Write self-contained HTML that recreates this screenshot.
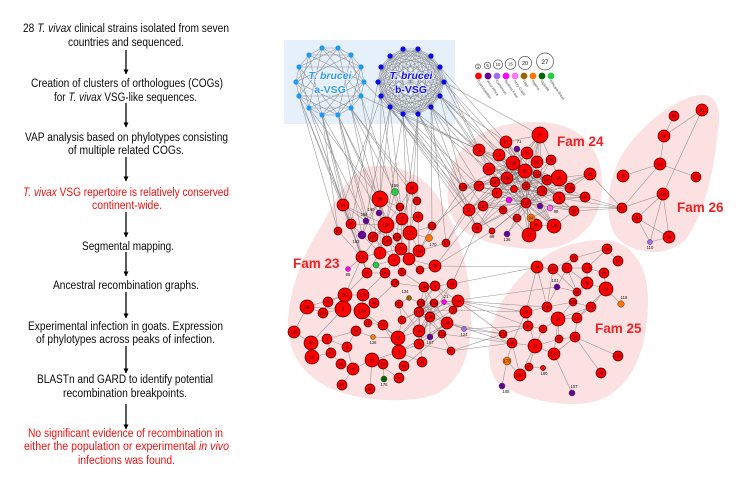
<!DOCTYPE html>
<html><head><meta charset="utf-8"><style>
html,body{margin:0;padding:0;background:#fff;width:756px;height:495px;overflow:hidden}
svg{display:block}
.t{font-family:"Liberation Sans",Arial,sans-serif;font-size:11.5px;fill:#0a0a0a}
.red{fill:#f01010}
.e{fill:none;stroke:#7a7a7a;stroke-width:.55;stroke-opacity:.8}
.r{fill:#f00;stroke:#3a0000;stroke-width:.65}
.lb{font-family:"Liberation Sans",Arial,sans-serif;font-size:4.2px;fill:#111;text-anchor:middle}
.sl{font-family:"Liberation Sans",Arial,sans-serif;font-size:3.6px;fill:#444}
.fam{font-family:"Liberation Sans",Arial,sans-serif;font-weight:bold;font-size:13.5px;fill:#ee2222}
</style></head><body>
<svg width="756" height="495" viewBox="0 0 756 495" xmlns="http://www.w3.org/2000/svg">
<defs><marker id="ah" viewBox="0 0 10 10" refX="9" refY="5" markerWidth="5" markerHeight="5" orient="auto" markerUnits="userSpaceOnUse"><path d="M0 0L10 5L0 10Z" fill="#000"/></marker></defs>

<!-- LEFT FLOW TEXT -->
<g class="t" text-anchor="middle">
<text x="126" y="32" textLength="206" lengthAdjust="spacingAndGlyphs">28 <tspan font-style="italic">T. vivax</tspan> clinical strains isolated from seven</text>
<text x="126" y="46" textLength="116" lengthAdjust="spacingAndGlyphs">countries and sequenced.</text>
<text x="127" y="87" textLength="192" lengthAdjust="spacingAndGlyphs">Creation of clusters of orthologues (COGs)</text>
<text x="125.5" y="101" textLength="143" lengthAdjust="spacingAndGlyphs">for <tspan font-style="italic">T. vivax</tspan> VSG-like sequences.</text>
<text x="126.5" y="141" textLength="203" lengthAdjust="spacingAndGlyphs">VAP analysis based on phylotypes consisting</text>
<text x="126" y="154" textLength="116" lengthAdjust="spacingAndGlyphs">of multiple related COGs.</text>
<text class="red" x="126" y="196" textLength="206" lengthAdjust="spacingAndGlyphs"><tspan font-style="italic">T. vivax</tspan> VSG repertoire is relatively conserved</text>
<text class="red" x="127" y="209" textLength="70" lengthAdjust="spacingAndGlyphs">continent-wide.</text>
<text x="128" y="250" textLength="92" lengthAdjust="spacingAndGlyphs">Segmental mapping.</text>
<text x="126" y="289" textLength="146" lengthAdjust="spacingAndGlyphs">Ancestral recombination graphs.</text>
<text x="125.5" y="330" textLength="195" lengthAdjust="spacingAndGlyphs">Experimental infection in goats. Expression</text>
<text x="125.5" y="343" textLength="179" lengthAdjust="spacingAndGlyphs">of phylotypes across peaks of infection.</text>
<text x="125" y="383" textLength="176" lengthAdjust="spacingAndGlyphs">BLASTn and GARD to identify potential</text>
<text x="125" y="397" textLength="124" lengthAdjust="spacingAndGlyphs">recombination breakpoints.</text>
<text class="red" x="125.5" y="437" textLength="195" lengthAdjust="spacingAndGlyphs">No significant evidence of recombination in</text>
<text class="red" x="126.5" y="450" textLength="205" lengthAdjust="spacingAndGlyphs">either the population or experimental <tspan font-style="italic">in vivo</tspan></text>
<text class="red" x="126.5" y="464" textLength="97" lengthAdjust="spacingAndGlyphs">infections was found.</text>
</g>
<g stroke="#000" stroke-width="1.3" marker-end="url(#ah)">
<line x1="126" y1="50" x2="126" y2="74"/>
<line x1="126" y1="103" x2="126" y2="127"/>
<line x1="126" y1="157" x2="126" y2="181"/>
<line x1="126" y1="212" x2="126" y2="237"/>
<line x1="126" y1="252" x2="126" y2="276"/>
<line x1="126" y1="292" x2="126" y2="318"/>
<line x1="126" y1="346" x2="126" y2="373"/>
<line x1="126" y1="404" x2="126" y2="429"/>
</g>

<!-- BLUE BOX & BLOBS -->
<rect x="284" y="40" width="171" height="84" fill="#e6f0fa"/>
<g fill="#fbe1e1">
<path d="M372 166C400 164 425 175 440 200C458 230 470 270 471 310C472 345 466 375 440 392C415 405 360 402 330 388C300 374 288 350 288 325C288 290 305 250 322 225C335 200 350 170 372 166Z"/>
<path d="M530 122C565 120 592 135 600 165C608 200 595 235 560 246C530 254 480 245 460 228C443 212 444 175 460 152C475 132 500 123 530 122Z"/>
<path d="M700 95C715 93 722 108 718 130C714 170 705 215 685 240C668 258 630 255 615 235C603 215 608 175 625 150C642 125 675 98 700 95Z"/>
<path d="M600 240C630 238 648 265 648 300C648 345 635 385 600 400C570 410 520 400 498 383C485 370 487 330 500 305C512 282 540 255 565 246C578 242 590 240 600 240Z"/>
</g>

<!-- RING EDGES -->
<g class="e">
<polygon points="338,48 351,55 361,67 364,82 361,96 351,108 338,115 322,115 309,108 299,96 296,82 299,67 309,55 322,48"/>
<polygon points="338,48 364,82 338,115 299,96 309,55 351,55 361,96 322,115 296,82 322,48 361,67 351,108 309,108 299,67"/>
<polygon points="338,48 351,108 296,82 351,55 338,115 299,67 361,67 322,115 309,55 364,82 309,108 322,48 361,96 299,96"/>
<polygon points="418,49 431,56 440,67 444,82 440,96 431,107 418,114 403,114 390,107 381,96 378,82 381,67 390,56 403,49"/>
<polygon points="418,49 444,82 418,114 381,96 390,56 431,56 440,96 403,114 378,82 403,49 440,67 431,107 390,107 381,67"/>
<polygon points="418,49 431,107 378,82 431,56 418,114 381,67 440,67 403,114 390,56 444,82 390,107 403,49 440,96 381,96"/>
<polygon points="418,49 440,96 390,107 390,56 440,67 418,114 378,82"/>
<polygon points="431,56 431,107 381,96 403,49 444,82 403,114 381,67"/>
<polygon points="418,49 418,114 390,56 440,96 378,82 440,67 390,107"/>
<polygon points="431,56 403,114 403,49 431,107 381,67 444,82 381,96"/>
<polygon points="418,49 440,67 440,96 418,114 390,107 378,82 390,56"/>
<polygon points="431,56 444,82 431,107 403,114 381,96 381,67 403,49"/>
<path d="M418 49L403 114M431 56L390 107M440 67L381 96M444 82L378 82M440 96L381 67M431 107L390 56M418 114L403 49"/>
</g>

<!-- INTER EDGES -->
<g class="e" stroke-opacity=".7">
<path d="M322 115L343 205M322 115L338 231M322 115L351 224M338 115L380 199M338 115L362 235M338 115L366 221M351 108L386 225M351 108L380 253M351 108L395 192M309 108L343 205M309 108L362 257M309 108L367 273M299 96L338 231M361 96L380 199M361 96L402 219M351 108L412 188M338 115L373 237M322 115L379 213M309 108L366 221M299 96L351 224M338 115L401 249M351 108L417 201M361 96L479 150M364 82L463 187M322 115L386 225M309 108L380 199M299 96L362 257M322 115L367 273"/>
<path d="M440 96L479 150M440 96L463 187M440 96L489 169M440 96L499 155M440 96L506 142M431 107L479 186M431 107L469 210M431 107L479 150M431 107L495 182M418 114L463 187M418 114L477 228M418 114L483 206M418 114L489 169M403 114L469 210M403 114L479 186M403 114L463 187M390 107L479 150M390 107L477 228M444 82L540 135M444 82L499 155M440 67L506 142M444 82L525 171M381 96L469 210M390 107L492 231M440 96L513 163M431 107L507 178M444 82L479 150M440 67L489 169"/>
<path d="M390 107L380 199M390 107L402 219M403 114L412 188M403 114L386 225M381 96L395 192M381 96L343 205M378 82L351 224M418 114L417 201M418 114L401 249M403 114L409 259M390 107L362 235M431 107L432 226M431 107L446 243M418 114L410 233M381 96L380 253"/>
<path d="M458 301L526 312M458 301L503 334M447 323L512 343M464 329L528 326M451 351L503 334M452 284L537 267M444 302L557 287M435 266L537 267M453 310L526 312M458 301L547 307M447 323L503 334M442 334L512 343M435 266L483 206M446 243L469 210M419 251L463 187M432 226L479 186M452 284L477 228M435 266L492 231M446 243L479 186M458 301L528 326M451 351L512 343M464 329L503 334"/>
<path d="M574 211L622 208M585 197L622 208M559 198L622 208M540 206L622 208M590 174L622 208"/>
</g>

<!-- FAM 24 EDGES -->
<g class="e" stroke="#555" stroke-opacity=".7">
<path d="M525 171L540 135M525 171L506 142M525 171L479 150M525 171L499 155M525 171L527 153M525 171L551 160M525 171L489 169M525 171L559 178M525 171L479 186M525 171L463 187M525 171L495 182M525 171L547 180M525 171L570 188M525 171L497 193M525 171L559 198M525 171L469 210M525 171L477 228M525 171L529 235M525 171L554 226M525 171L574 211M525 171L483 206"/>
<path d="M526 203L540 135M526 203L506 142M526 203L479 150M526 203L499 155M526 203L489 169M526 203L463 187M526 203L479 186M526 203L469 210M526 203L483 206M526 203L477 228M526 203L492 231M526 203L507 234M526 203L536 225M526 203L554 226M526 203L574 211M526 203L585 197M526 203L570 188M526 203L559 178M526 203L551 160M526 203L537 162M526 203L590 174"/>
<path d="M513 163L479 150M513 163L489 169M513 163L463 187M513 163L479 186M513 163L469 210M513 163L529 235M513 163L554 226M513 163L559 198M513 163L559 178M513 163L570 188M513 163L540 135M513 163L585 197"/>
<path d="M526 186L540 135M526 186L551 160M526 186L479 150M526 186L483 206M526 186L477 228M526 186L529 235M526 186L517 218M526 186L585 197M526 186L506 142"/>
<path d="M542 191L479 150M542 191L506 142M542 191L499 155M542 191L489 169M542 191L463 187M542 191L469 210M542 191L477 228M542 191L507 234M542 191L492 231M542 191L585 197M542 191L590 174M542 191L540 135"/>
<path d="M507 178L540 135M507 178L537 162M507 178L559 178M507 178L570 188M507 178L574 211M507 178L554 226M507 178L536 225M507 178L469 210M507 178L477 228"/>
<path d="M540 135L506 142M540 135L527 153M540 135L537 162M540 135L551 160M540 135L559 178M540 135L497 193M559 178L590 174M559 198L585 197M570 188L590 174M479 150L499 155M499 155L506 142M469 210L477 228M483 206L503 210M503 210L529 235M536 225L554 226M574 211L554 226M559 198L574 211M495 182L559 198M489 169L559 178M497 193L570 188M479 186L574 211M463 187L559 178M509 200L540 206M550 208L531 218M517 149L525 171M517 149L497 193M497 193L547 180M489 169L536 225M499 155L554 226M506 142L559 198M479 186L537 162M495 182L554 226"/>
</g>

<!-- FAM 26 EDGES -->
<path class="e" d="M674 116L664 136M664 136L702 110M664 136L660 164M660 164L623 176M660 164L696 177M660 164L622 208M702 110L663 194M663 194L622 208M663 194L637 218M663 194L650 242M663 194L669 237M637 218L669 237M637 218L650 242M650 242L669 237"/>

<!-- FAM 23 EDGES -->
<g class="e">
<path d="M380 199L386 225M380 199L402 219M380 199L400 207M412 188L402 219M412 188L417 201M395 192L386 225M395 192L400 207M343 205L386 225M351 224L386 225M338 231L362 257M386 225L362 257M386 225L373 237M386 225L387 241M386 225L380 253M386 225L401 249M386 225L394 260M402 219L410 233M402 219L418 217M402 219L401 249M410 233L419 251M410 233L409 259M410 233L432 226M429 238L410 233M446 243L419 251M401 249L409 259M401 249L394 260M401 249L380 253M394 260L385 273M394 260L402 272M380 253L367 273M380 253L362 257M362 257L367 273M409 259L435 266M409 259L420 270M435 266L420 270M385 273L395 283M395 283L424 287M380 199L362 235M380 199L366 221M380 199L379 213M343 205L362 257M351 224L380 253M417 201L410 233M400 207L397 237M418 217L419 251M402 219L373 237M386 225L410 233M397 237L401 249M362 235L380 253M366 221L401 249M387 241L409 259M373 237L394 260M343 205L366 221M412 188L386 225M432 226L419 251M394 260L376 265M402 272L424 287M367 273L385 273M348 269L362 257M376 265L385 273"/>
<path d="M345 295L363 295M345 295L343 309M345 295L328 302M343 309L362 311M343 309L323 313M307 307L323 313M307 307L343 309M363 295L374 303M363 295L362 311M362 311L368 323M368 323L383 325M383 325L398 338M356 331L373 337M373 337L398 338M398 338L399 352M399 352L372 360M372 360L383 364M399 352L404 366M404 366L399 378M383 364L384 379M353 369L341 364M341 364L331 353M331 353L327 339M327 339L311 343M311 343L312 357M311 343L294 332M294 332L307 307M347 347L327 339M347 347L356 331M347 347L353 369M353 369L372 360M342 385L353 369M370 389L372 360M399 352L419 344M398 338L419 331M398 338L402 320M402 320L399 304M399 304L409 298M367 273L345 295M385 273L363 295M395 283L374 303M362 257L345 295M328 302L323 313M312 357L331 353M327 339L356 331M372 360L399 378M399 352L422 362M383 325L399 352M362 311L398 338M345 295L307 307M294 332L311 343M343 309L311 343"/>
<path d="M419 312L430 317M419 312L421 303M419 312L434 303M419 312L419 331M419 312L447 323M419 312L458 301M419 312L453 310M419 312L442 334M419 312L424 287M419 312L435 286M419 312L452 284M419 312L402 320M430 317L421 303M430 317L458 301M430 317L419 331M430 317L442 334M430 317L430 337M430 317L419 344M430 317L424 287M430 317L452 284M430 317L444 302M421 303L447 323M421 303L435 286M421 303L419 331M434 303L419 331M434 303L447 323M434 303L424 287M434 303L402 320M447 323L458 301M447 323L442 334M447 323L419 344M447 323L424 287M453 310L419 331M453 310L435 286M458 301L435 286M458 301L444 302M442 334L451 351M419 331L422 362M419 344L451 351M419 331L399 304M419 312L398 338M434 303L398 338M447 323L399 352M442 334L404 366M424 287L435 286M435 286L452 284M430 337L447 323M419 344L434 303M464 329L447 323M409 298L421 303"/>
</g>

<!-- FAM 25 EDGES -->
<path class="e" d="M607 249L618 261M607 249L574 258M607 249L587 268M574 258L567 268M574 258L553 269M537 267L553 269M537 267L547 307M537 267L526 312M567 268L587 268M567 268L587 283M587 268L604 273M587 268L587 283M604 273L606 289M587 283L606 289M587 283L577 292M577 292L573 302M606 289L591 307M606 289L621 304M591 307L573 302M573 302L558 319M557 287L547 307M557 287L577 292M547 307L558 319M547 307L526 312M526 312L528 326M528 326L543 329M543 329L558 319M558 319L577 318M577 318L575 337M575 337L559 339M559 339L558 319M559 339L535 346M535 346L512 343M512 343L503 334M535 346L554 354M554 354L572 393M535 346L529 367M529 367L520 375M520 375L507 361M507 361L502 386M507 361L512 343M529 367L543 368M575 337L618 356M575 337L601 373M554 354L575 337M528 326L503 334M543 329L535 346M567 268L557 287M553 269L577 292M558 319L591 307M577 318L591 307M547 307L573 302M553 269L547 307M526 312L512 343M520 375L512 343M535 346L520 375M567 268L577 292M587 283L573 302M606 289L577 318M558 319L554 354M526 312L535 346"/>

<!-- RING NODES -->
<g fill="#1e9bf0">
<circle cx="338" cy="48" r="2.6"/><circle cx="351" cy="55" r="2.6"/><circle cx="361" cy="67" r="2.6"/><circle cx="364" cy="82" r="2.6"/><circle cx="361" cy="96" r="2.6"/><circle cx="351" cy="108" r="2.6"/><circle cx="338" cy="115" r="2.6"/><circle cx="322" cy="115" r="2.6"/><circle cx="309" cy="108" r="2.6"/><circle cx="299" cy="96" r="2.6"/><circle cx="296" cy="82" r="2.6"/><circle cx="299" cy="67" r="2.6"/><circle cx="309" cy="55" r="2.6"/><circle cx="322" cy="48" r="2.6"/>
</g>
<g fill="#0a0ae6">
<circle cx="418" cy="49" r="2.6"/><circle cx="431" cy="56" r="2.6"/><circle cx="440" cy="67" r="2.6"/><circle cx="444" cy="82" r="2.6"/><circle cx="440" cy="96" r="2.6"/><circle cx="431" cy="107" r="2.6"/><circle cx="418" cy="114" r="2.6"/><circle cx="403" cy="114" r="2.6"/><circle cx="390" cy="107" r="2.6"/><circle cx="381" cy="96" r="2.6"/><circle cx="378" cy="82" r="2.6"/><circle cx="381" cy="67" r="2.6"/><circle cx="390" cy="56" r="2.6"/><circle cx="403" cy="49" r="2.6"/>
</g>
<g font-family="Liberation Sans, Arial, sans-serif" font-weight="bold" font-size="10.5" text-anchor="middle" stroke="#fff" stroke-width="2" paint-order="stroke" stroke-opacity=".6">
<text x="330" y="79" fill="#2a9df4" font-style="italic">T. brucei</text>
<text x="330" y="93" fill="#2a9df4">a-VSG</text>
<text x="411" y="79" fill="#1515ee" font-style="italic">T. brucei</text>
<text x="411" y="93" fill="#1515ee">b-VSG</text>
</g>

<!-- LEGEND -->
<g fill="none" stroke="#555" stroke-width=".7">
<circle cx="478" cy="66.5" r="2.5"/><circle cx="487.5" cy="65.5" r="3.3"/><circle cx="498" cy="64.5" r="4.6"/><circle cx="510.5" cy="64" r="5.3"/><circle cx="525" cy="63" r="6.6"/><circle cx="545" cy="61.5" r="8.5"/>
</g>
<g class="lb" font-size="4.5">
<text x="478" y="68">1</text><text x="487.5" y="67">5</text><text x="498" y="66.2">10</text><text x="510.5" y="65.7">15</text><text x="525" y="65" font-size="5.5">20</text><text x="545" y="64" font-size="6.5">27</text>
</g>
<g>
<circle cx="478.5" cy="76" r="3.4" fill="#ff0000"/><circle cx="488" cy="76" r="3.4" fill="#660099"/><circle cx="497" cy="76" r="3.4" fill="#9a70f0"/><circle cx="506" cy="76" r="3.4" fill="#ff00ff"/><circle cx="515" cy="76" r="3.4" fill="#ff77f0"/><circle cx="524" cy="76" r="3.4" fill="#996600"/><circle cx="533" cy="76" r="3.4" fill="#ff7700"/><circle cx="542" cy="76" r="3.4" fill="#006600"/><circle cx="551" cy="76" r="3.4" fill="#22cc44"/>
</g>
<g class="sl">
<text transform="translate(477,81) rotate(55)">Cosmopolitan</text>
<text transform="translate(486.5,81) rotate(55)">West Africa</text>
<text transform="translate(495.5,81) rotate(55)">Cameroon</text>
<text transform="translate(504.5,81) rotate(55)">Burkina Faso</text>
<text transform="translate(513.5,81) rotate(55)">Ivory Coast</text>
<text transform="translate(522.5,81) rotate(55)">Togo</text>
<text transform="translate(531.5,81) rotate(55)">Nigeria</text>
<text transform="translate(540.5,81) rotate(55)">Uganda</text>
<text transform="translate(549.5,81) rotate(55)">Ethiopia-Brazil</text>
</g>

<!-- FAM 24 NODES -->
<g class="r">
<circle cx="540" cy="135" r="8"/><circle cx="506" cy="142" r="6"/><circle cx="479" cy="150" r="6"/><circle cx="499" cy="155" r="6"/><circle cx="527" cy="153" r="6"/><circle cx="551" cy="160" r="5"/><circle cx="513" cy="163" r="7"/><circle cx="537" cy="162" r="6"/><circle cx="489" cy="169" r="6"/><circle cx="525" cy="171" r="7"/><circle cx="537" cy="174" r="4"/><circle cx="559" cy="178" r="8"/><circle cx="590" cy="174" r="6"/><circle cx="479" cy="186" r="5"/><circle cx="463" cy="187" r="4"/><circle cx="495" cy="182" r="5"/><circle cx="507" cy="178" r="6"/><circle cx="547" cy="180" r="5"/><circle cx="526" cy="186" r="4"/><circle cx="514" cy="189" r="3.5"/><circle cx="542" cy="191" r="5"/><circle cx="570" cy="188" r="5"/><circle cx="497" cy="193" r="5"/><circle cx="559" cy="198" r="6"/><circle cx="585" cy="197" r="5"/><circle cx="526" cy="203" r="5"/><circle cx="483" cy="206" r="5"/><circle cx="574" cy="211" r="5"/><circle cx="469" cy="210" r="6"/><circle cx="503" cy="210" r="4"/><circle cx="517" cy="218" r="4"/><circle cx="536" cy="225" r="6"/><circle cx="554" cy="226" r="7"/><circle cx="477" cy="228" r="5"/><circle cx="492" cy="231" r="3"/><circle cx="529" cy="235" r="7"/>
</g>
<g stroke="#333" stroke-width=".5">
<circle cx="517" cy="149" r="3" fill="#660099"/><circle cx="509" cy="200" r="3" fill="#ff00ff"/><circle cx="540" cy="206" r="3" fill="#660099"/><circle cx="550" cy="208" r="3" fill="#ff66f0"/><circle cx="531" cy="218" r="4" fill="#ff7700"/><circle cx="507" cy="234" r="3" fill="#660099"/>
</g>
<g class="lb">
<text x="540" y="136.5">57</text><text x="506" y="143.5">97</text><text x="479" y="151.5">53</text><text x="499" y="156.5">13</text><text x="527" y="154.5">95</text><text x="551" y="161.5">96</text><text x="513" y="164.5">125</text><text x="537" y="163.5">50</text><text x="489" y="170.5">51</text><text x="525" y="172.5">91</text><text x="537" y="175.5">93</text><text x="559" y="179.5">56</text><text x="590" y="175.5">90</text><text x="479" y="187.5">87</text><text x="463" y="188.5">129</text><text x="495" y="183.5">127</text><text x="507" y="179.5">156</text><text x="547" y="181.5">137</text><text x="526" y="187.5">55</text><text x="542" y="192.5">133</text><text x="570" y="189.5">130</text><text x="497" y="194.5">9</text><text x="559" y="199.5">70</text><text x="585" y="198.5">68</text><text x="526" y="204.5">139</text><text x="483" y="207.5">127</text><text x="574" y="212.5">62</text><text x="469" y="211.5">52</text><text x="503" y="211.5">32</text><text x="517" y="219.5">120</text><text x="531" y="219.5">94</text><text x="536" y="226.5">38</text><text x="554" y="227.5">178</text><text x="477" y="229.5">39</text><text x="529" y="236.5">37</text>
<text x="519" y="143">71</text><text x="492" y="238">69</text><text x="507" y="241">136</text><text x="556" y="213">99</text>
</g>

<!-- FAM 26 NODES -->
<g class="r">
<circle cx="702" cy="110" r="6"/><circle cx="674" cy="116" r="5"/><circle cx="664" cy="136" r="6"/><circle cx="660" cy="164" r="6"/><circle cx="623" cy="176" r="6"/><circle cx="696" cy="177" r="5"/><circle cx="663" cy="194" r="6"/><circle cx="622" cy="208" r="5"/><circle cx="637" cy="218" r="5"/><circle cx="669" cy="237" r="6"/>
</g>
<circle cx="650" cy="242" r="2.5" fill="#9a70f0" stroke="#333" stroke-width=".5"/>
<g class="lb">
<text x="702" y="111.5">61</text><text x="674" y="117.5">63</text><text x="664" y="137.5">19</text><text x="660" y="165.5">112</text><text x="623" y="177.5">35</text><text x="696" y="178.5">113</text><text x="663" y="195.5">111</text><text x="622" y="209.5">117</text><text x="637" y="219.5">114</text><text x="669" y="238.5">36</text><text x="650" y="249">110</text>
</g>

<!-- FAM 23 NODES -->
<g class="r">
<circle cx="412" cy="188" r="6"/><circle cx="380" cy="199" r="8"/><circle cx="400" cy="207" r="4"/><circle cx="417" cy="201" r="4"/><circle cx="343" cy="205" r="6"/><circle cx="402" cy="219" r="6"/><circle cx="418" cy="217" r="5"/><circle cx="351" cy="224" r="5"/><circle cx="386" cy="225" r="8"/><circle cx="432" cy="226" r="4"/><circle cx="338" cy="231" r="4"/><circle cx="410" cy="233" r="7"/><circle cx="373" cy="237" r="5"/><circle cx="387" cy="241" r="5"/><circle cx="397" cy="237" r="4"/><circle cx="446" cy="243" r="4"/><circle cx="401" cy="249" r="6"/><circle cx="419" cy="251" r="6"/><circle cx="380" cy="253" r="6"/><circle cx="362" cy="257" r="6"/><circle cx="394" cy="260" r="6"/><circle cx="409" cy="259" r="6"/><circle cx="435" cy="266" r="6"/><circle cx="420" cy="270" r="4"/><circle cx="367" cy="273" r="5"/><circle cx="385" cy="273" r="5"/><circle cx="402" cy="272" r="4"/><circle cx="395" cy="283" r="4"/><circle cx="424" cy="287" r="5"/><circle cx="435" cy="286" r="5"/><circle cx="452" cy="284" r="5"/><circle cx="345" cy="295" r="7"/><circle cx="363" cy="295" r="6"/><circle cx="328" cy="302" r="5"/><circle cx="374" cy="303" r="5"/><circle cx="399" cy="304" r="4"/><circle cx="421" cy="303" r="4"/><circle cx="434" cy="303" r="4"/><circle cx="458" cy="301" r="6"/><circle cx="307" cy="307" r="7"/><circle cx="343" cy="309" r="8"/><circle cx="362" cy="311" r="8"/><circle cx="323" cy="313" r="5"/><circle cx="419" cy="312" r="5"/><circle cx="453" cy="310" r="4"/><circle cx="402" cy="320" r="4"/><circle cx="430" cy="317" r="5"/><circle cx="368" cy="323" r="4"/><circle cx="383" cy="325" r="5"/><circle cx="447" cy="323" r="6"/><circle cx="356" cy="331" r="5"/><circle cx="419" cy="331" r="6"/><circle cx="294" cy="332" r="6"/><circle cx="442" cy="334" r="4"/><circle cx="398" cy="338" r="7"/><circle cx="327" cy="339" r="5"/><circle cx="419" cy="344" r="5"/><circle cx="311" cy="343" r="7"/><circle cx="347" cy="347" r="5"/><circle cx="451" cy="351" r="4"/><circle cx="399" cy="352" r="7"/><circle cx="331" cy="353" r="5"/><circle cx="312" cy="357" r="7"/><circle cx="372" cy="360" r="7"/><circle cx="341" cy="364" r="5"/><circle cx="383" cy="364" r="5"/><circle cx="422" cy="362" r="5"/><circle cx="404" cy="366" r="5"/><circle cx="353" cy="369" r="6"/><circle cx="399" cy="378" r="5"/><circle cx="342" cy="385" r="5"/><circle cx="370" cy="389" r="5"/>
</g>
<g stroke="#333" stroke-width=".5">
<circle cx="395" cy="192" r="3.5" fill="#22cc44"/><circle cx="379" cy="213" r="3" fill="#660099"/><circle cx="366" cy="221" r="3" fill="#660099"/><circle cx="362" cy="235" r="4" fill="#660099"/><circle cx="429" cy="238" r="3.5" fill="#ff7700"/><circle cx="348" cy="269" r="2.5" fill="#ff00ff"/><circle cx="376" cy="265" r="3" fill="#22cc44"/><circle cx="409" cy="298" r="2.5" fill="#996600"/><circle cx="444" cy="302" r="2.5" fill="#ff00ff"/><circle cx="464" cy="329" r="2.5" fill="#9a70f0"/><circle cx="430" cy="337" r="3" fill="#660099"/><circle cx="373" cy="337" r="2.5" fill="#ff7700"/><circle cx="384" cy="379" r="3" fill="#006600"/>
</g>
<g class="lb">
<text x="412" y="189.5">80</text><text x="380" y="200.5">58</text><text x="400" y="208.5">161</text><text x="417" y="202.5">153</text><text x="343" y="206.5">66</text><text x="402" y="220.5">27</text><text x="418" y="218.5">49</text><text x="351" y="225.5">89</text><text x="386" y="226.5">150</text><text x="432" y="227.5">151</text><text x="338" y="232.5">81</text><text x="410" y="234.5">151</text><text x="373" y="238.5">155</text><text x="387" y="242.5">149</text><text x="397" y="238.5">164</text><text x="446" y="244.5">87</text><text x="401" y="250.5">171</text><text x="419" y="252.5">116</text><text x="380" y="254.5">3</text><text x="362" y="258.5">131</text><text x="394" y="261.5">8</text><text x="409" y="260.5">7</text><text x="435" y="267.5">88</text><text x="420" y="271.5">172</text><text x="367" y="274.5">16</text><text x="385" y="274.5">141</text><text x="402" y="273.5">25</text><text x="395" y="284.5">125</text><text x="424" y="288.5">148</text><text x="435" y="287.5">4</text><text x="452" y="285.5">30</text><text x="345" y="296.5">142</text><text x="363" y="296.5">179</text><text x="328" y="303.5">79</text><text x="374" y="304.5">48</text><text x="399" y="305.5">82</text><text x="421" y="304.5">154</text><text x="434" y="304.5">169</text><text x="458" y="302.5">144</text><text x="307" y="308.5">166</text><text x="343" y="310.5">2</text><text x="362" y="312.5">143</text><text x="323" y="314.5">123</text><text x="419" y="313.5">147</text><text x="453" y="311.5">76</text><text x="402" y="321.5">77</text><text x="430" y="318.5">148</text><text x="368" y="324.5">15</text><text x="383" y="326.5">72</text><text x="447" y="324.5">145</text><text x="356" y="332.5">34</text><text x="419" y="332.5">104</text><text x="294" y="333.5">185</text><text x="442" y="335.5">161</text><text x="398" y="339.5">12</text><text x="327" y="340.5">9</text><text x="419" y="345.5">78</text><text x="311" y="344.5">40</text><text x="347" y="348.5">6</text><text x="451" y="352.5">65</text><text x="399" y="353.5">1</text><text x="331" y="354.5">47</text><text x="312" y="358.5">10</text><text x="372" y="361.5">33</text><text x="341" y="365.5">28</text><text x="383" y="365.5">22</text><text x="422" y="363.5">29</text><text x="404" y="367.5">43</text><text x="353" y="370.5">42</text><text x="399" y="379.5">84</text><text x="342" y="386.5">85</text><text x="370" y="390.5">64</text>
<text x="395" y="187">156</text><text x="371" y="211">160</text><text x="364" y="216">159</text><text x="356" y="243">153</text><text x="433" y="246">170</text><text x="348" y="276">86</text><text x="405" y="293">134</text><text x="446" y="298">21</text><text x="464" y="336">124</text><text x="430" y="344">167</text><text x="373" y="344">126</text><text x="384" y="386">176</text>
</g>

<!-- FAM 25 NODES -->
<g class="r">
<circle cx="607" cy="249" r="5"/><circle cx="574" cy="258" r="4"/><circle cx="618" cy="261" r="5"/><circle cx="537" cy="267" r="6"/><circle cx="553" cy="269" r="5"/><circle cx="567" cy="268" r="5"/><circle cx="587" cy="268" r="5"/><circle cx="604" cy="273" r="5"/><circle cx="587" cy="283" r="6"/><circle cx="606" cy="289" r="7"/><circle cx="577" cy="292" r="4"/><circle cx="573" cy="302" r="4"/><circle cx="547" cy="307" r="5"/><circle cx="591" cy="307" r="5"/><circle cx="526" cy="312" r="6"/><circle cx="577" cy="318" r="5"/><circle cx="558" cy="319" r="7"/><circle cx="528" cy="326" r="5"/><circle cx="543" cy="329" r="4"/><circle cx="503" cy="334" r="4"/><circle cx="575" cy="337" r="5"/><circle cx="559" cy="339" r="4"/><circle cx="512" cy="343" r="5"/><circle cx="535" cy="346" r="7"/><circle cx="554" cy="354" r="6"/><circle cx="618" cy="356" r="5"/><circle cx="529" cy="367" r="4"/><circle cx="543" cy="368" r="2.5"/><circle cx="520" cy="375" r="6"/><circle cx="601" cy="373" r="5"/>
</g>
<g stroke="#333" stroke-width=".5">
<circle cx="557" cy="287" r="3" fill="#660099"/><circle cx="621" cy="304" r="3.2" fill="#ff7700"/><circle cx="507" cy="361" r="4" fill="#ff7700"/><circle cx="502" cy="386" r="3" fill="#660099"/><circle cx="572" cy="393" r="3" fill="#660099"/>
</g>
<g class="lb">
<text x="607" y="250.5">126</text><text x="574" y="259.5">41</text><text x="618" y="262.5">26</text><text x="537" y="268.5">44</text><text x="553" y="270.5">119</text><text x="567" y="269.5">17</text><text x="587" y="269.5">174</text><text x="604" y="274.5">99</text><text x="587" y="284.5">20</text><text x="606" y="290.5">24</text><text x="577" y="293.5">60</text><text x="573" y="303.5">102</text><text x="547" y="308.5">163</text><text x="591" y="308.5">74</text><text x="526" y="313.5">73</text><text x="577" y="319.5">21</text><text x="558" y="320.5">14</text><text x="528" y="327.5">54</text><text x="543" y="330.5">22</text><text x="503" y="335.5">170</text><text x="575" y="338.5">58</text><text x="559" y="340.5">46</text><text x="512" y="344.5">59</text><text x="535" y="347.5">23</text><text x="554" y="355.5">100</text><text x="618" y="357.5">106</text><text x="507" y="362.5">173</text><text x="529" y="368.5">31</text><text x="520" y="376.5">103</text><text x="601" y="374.5">98</text>
<text x="555" y="282">101</text><text x="624" y="299">118</text><text x="544" y="375">180</text><text x="506" y="393">108</text><text x="574" y="388">107</text>
</g>

<!-- FAM LABELS -->
<text class="fam" x="557" y="146">Fam 24</text>
<text class="fam" x="677" y="212">Fam 26</text>
<text class="fam" x="293" y="268">Fam 23</text>
<text class="fam" x="595" y="333">Fam 25</text>
</svg>
</body></html>
